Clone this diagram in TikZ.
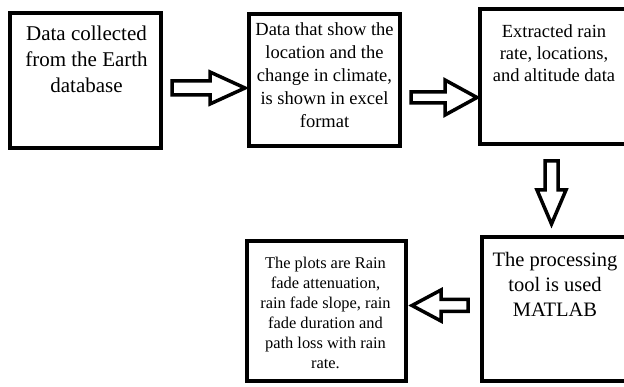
\documentclass[tikz,border=0pt]{standalone}
\usepackage{fontspec}
\setmainfont{Liberation Serif}
\usepackage{tikz}
\usetikzlibrary{calc}
\usetikzlibrary{positioning}

\tikzset{
  box/.style={draw, line width=4pt, rectangle, inner sep=0pt},
  boxtext/.style={anchor=north, align=center, inner sep=0pt},
  blockarrow/.style={draw, line width=3.5pt, line join=miter, fill=white}
}

\begin{document}
\begin{tikzpicture}[x=1pt, y=-1pt, line cap=butt]
  \useasboundingbox (0,0) rectangle (624,387);
  \clip (0,0) rectangle (624,387);
  %--- Earth database
    \node[box, minimum width=151pt, minimum height=135pt] (earth) at (85.5,80.5) {};
    \node[boxtext, font=\fontsize{21}{26}\selectfont] (earthtxt) at ($(earth.north)+(1,15)$)
      {Data collected\\from the Earth\\database};
  %--- excel data
    \node[box, minimum width=151pt, minimum height=132pt] (excel) at (324.5,80) {};
    \node[boxtext, font=\fontsize{18.5}{23}\selectfont] (exceltxt) at ($(excel.north)+(0,10)$)
      {Data that show the\\location and the\\change in climate,\\is shown in excel\\format};
  %--- extracted data
    \node[box, minimum width=160pt, minimum height=135pt] (extract) at (560,76.5) {};
    \node[boxtext, font=\fontsize{18.5}{22}\selectfont] (extracttxt) at ($(extract.north)+(-6,17)$)
      {Extracted rain\\rate, locations,\\and altitude data};
  %--- MATLAB
    \node[box, minimum width=158pt, minimum height=144pt] (matlab) at (561,309) {};
    \node[boxtext, font=\fontsize{20.5}{25}\selectfont] (matlabtxt) at ($(matlab.north)+(-6,17)$)
      {The processing\\tool is used\\MATLAB};
  %--- plots
    \node[box, minimum width=159pt, minimum height=140pt] (plots) at (326.5,311) {};
    \node[boxtext, font=\fontsize{16.4}{20}\selectfont] (plotstxt) at ($(plots.north)+(-1,18)$)
      {The plots are Rain\\fade attenuation,\\rain fade slope, rain\\fade duration and\\path loss with rain\\rate.};
  %--- arrows
    \coordinate (a1) at ($(earth.east)+(9,7.5)$);
    \draw[blockarrow] (a1) ++(0,-7) -- ++(38,0) -- ++(0,-9) -- ++(35,16) -- ++(-35,16) -- ++(0,-9) -- ++(-38,0) -- cycle;
    \coordinate (a2) at ($(excel.east)+(9,17.5)$);
    \draw[blockarrow] (a2) ++(0,-5.5) -- ++(34,0) -- ++(0,-12) -- ++(32,17.5) -- ++(-32,17.5) -- ++(0,-12) -- ++(-34,0) -- cycle;
    \coordinate (a3) at ($(extract.south west)+(73.5,15)$);
    \draw[blockarrow] (a3) ++(-6.5,0) -- ++(0,29) -- ++(-8,0) -- ++(14.5,34) -- ++(14.5,-34) -- ++(-8,0) -- ++(0,-29) -- cycle;
    \coordinate (a4) at ($(matlab.west)+(-12,-3.5)$);
    \draw[blockarrow] (a4) ++(0,-6) -- ++(-27,0) -- ++(0,-9.5) -- ++(-29,15.5) -- ++(29,15.5) -- ++(0,-9.5) -- ++(27,0) -- cycle;
\end{tikzpicture}
\end{document}
